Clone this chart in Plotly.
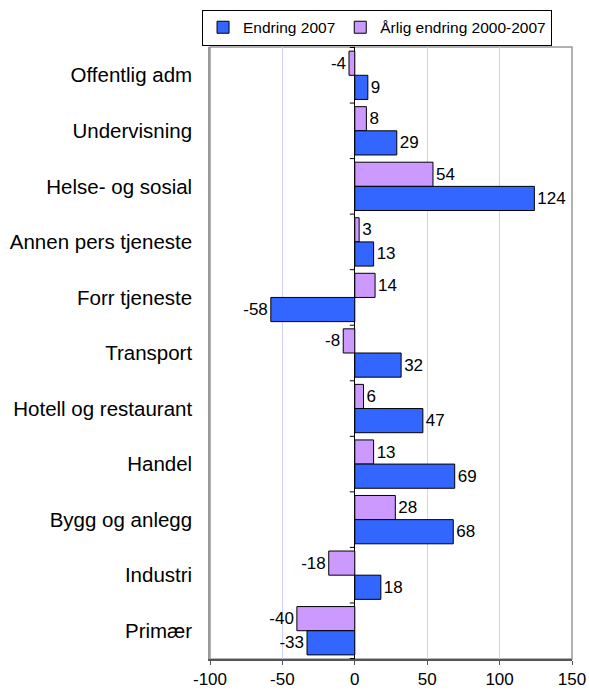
import plotly.graph_objects as go

categories = ["Offentlig adm", "Undervisning", "Helse- og sosial", "Annen pers tjeneste",
              "Forr tjeneste", "Transport", "Hotell og restaurant", "Handel",
              "Bygg og anlegg", "Industri", "Primær"]
endring_2007 = [9, 29, 124, 13, -58, 32, 47, 69, 68, 18, -33]
arlig_endring = [-4, 8, 54, 3, 14, -8, 6, 13, 28, -18, -40]
x_ticks = [-100, -50, 0, 50, 100, 150]

font = "Liberation Sans, Arial, sans-serif"

fig = go.Figure()
# violet first so that it sits above blue on the reversed category axis
fig.add_trace(go.Bar(
    y=categories, x=arlig_endring, orientation="h", name="Årlig endring 2000-2007",
    marker=dict(color="#CC99FF", line=dict(color="black", width=1)),
    text=[str(v) for v in arlig_endring], textposition="outside",
    textfont=dict(size=17, color="black", family=font), cliponaxis=False,
))
fig.add_trace(go.Bar(
    y=categories, x=endring_2007, orientation="h", name="Endring 2007",
    marker=dict(color="#3366FF", line=dict(color="black", width=1)),
    text=[str(v) for v in endring_2007], textposition="outside",
    textfont=dict(size=17, color="black", family=font), cliponaxis=False,
))

fig.update_layout(
    width=589, height=692,
    barmode="group", bargap=0.13, bargroupgap=0,
    paper_bgcolor="white", plot_bgcolor="white",
    margin=dict(l=210, r=17, t=47, b=33, autoexpand=False),
    font=dict(family=font, color="black"),
    legend=dict(orientation="h", x=-0.022, xanchor="left", y=1.061, yanchor="top",
                bordercolor="black", borderwidth=1, font=dict(size=15.5),
                traceorder="reversed", itemwidth=30, tracegroupgap=0),
    showlegend=True,
)
fig.update_xaxes(
    range=[-100, 150], tickvals=x_ticks, ticktext=[str(t) for t in x_ticks],
    showgrid=True, gridcolor="#D0D0FF", gridwidth=1,
    zeroline=True, zerolinecolor="black", zerolinewidth=1,
    showline=True, linecolor="#555555", linewidth=1.5, mirror=False,
    ticks="outside", ticklen=4, tickcolor="#555555",
    tickfont=dict(size=17), fixedrange=True, automargin=False,
)
fig.update_yaxes(
    autorange="reversed", showgrid=False, showline=True, linecolor="#999999",
    linewidth=1.5, tickfont=dict(size=20.5), ticks="", ticklabelstandoff=12,
    automargin=False, fixedrange=True,
)
# plot-area frame
fig.add_shape(type="rect", xref="paper", yref="paper", x0=0, x1=1, y0=0, y1=1,
              line=dict(color="#999999", width=1.5), layer="below")
# category boundary ticks on the zero axis
for i in range(len(categories) + 1):
    fig.add_shape(type="line", xref="x", yref="y", xsizemode="pixel", xanchor=0,
                  x0=-5, x1=0, y0=i - 0.5, y1=i - 0.5,
                  line=dict(color="black", width=1))

fig.write_html("out.html", config={"displayModeBar": False},
               post_script="document.body.style.margin='0';document.body.style.overflow='hidden';")
